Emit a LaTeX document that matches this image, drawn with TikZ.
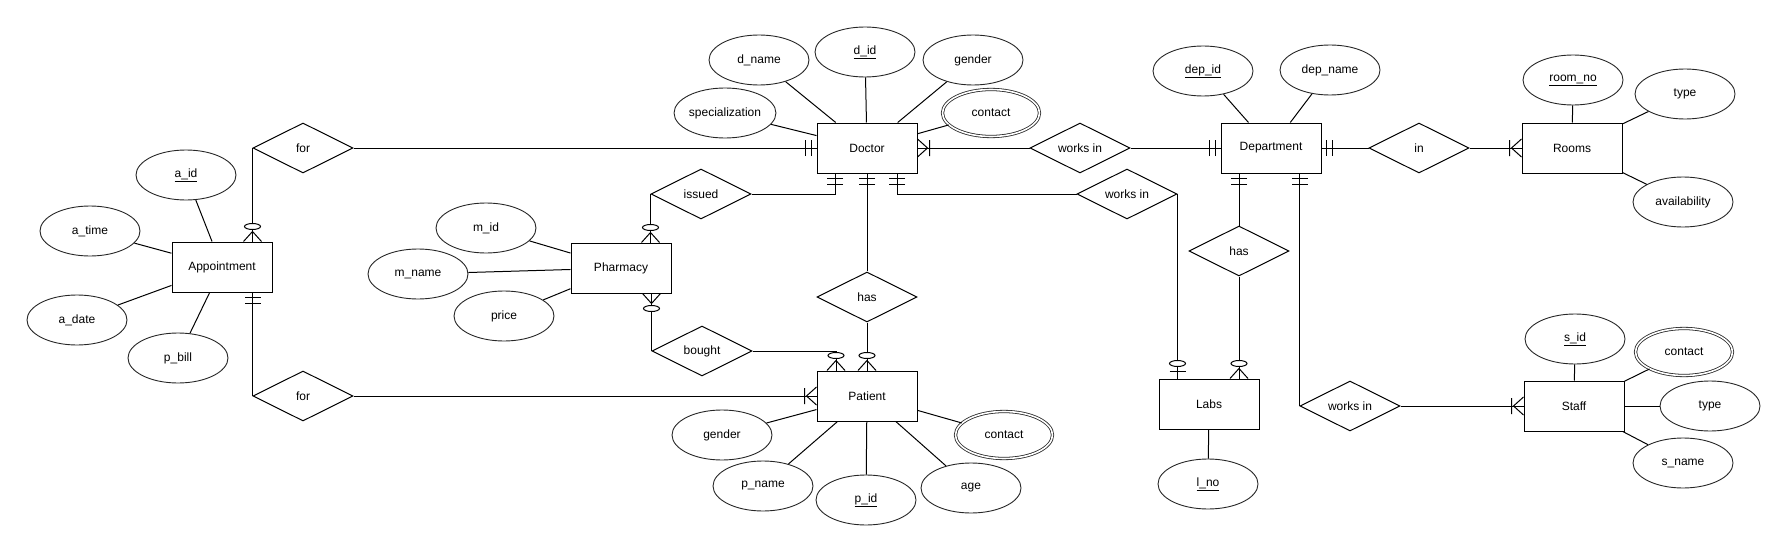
\documentclass[tikz,border=0pt]{standalone}
\usepackage{fontspec}
\setmainfont{Liberation Sans}
\usetikzlibrary{shapes.geometric,decorations.markings}

\begin{document}
\begin{tikzpicture}[
	x=1pt, y=-1pt,
	font=\fontsize{12}{14}\selectfont,
	text centered,
	entity/.style={
	  rectangle,
	  minimum width=100pt,
	  minimum height=50pt,
	  line width=1pt,
	  draw=black
	},
	attrib/.style={
	  ellipse,
	  minimum width=100pt,
	  minimum height=50pt,
	  inner sep=0pt,
	  line width=0.9pt,
	  draw=black!85
	},
	multi/.style={
	  attrib,
	  double,
	  double distance=1.6pt,
	  line width=0.8pt,
	  minimum width=97pt,
	  minimum height=47pt
	},
	relation/.style={
	  diamond,
	  aspect=2,
	  minimum width=100pt,
	  minimum height=50pt,
	  inner sep=0pt,
	  line width=1pt,
	  draw=black
	},
	line/.style={draw, line width=1pt},
	endmark/.style={postaction={decorate, decoration={markings, mark=at position 1 with {#1}}}},
	mandone/.style={endmark={
	  \draw[line width=1pt] (-5pt,-8pt) -- (-5pt,8pt) (-11pt,-8pt) -- (-11pt,8pt);}},
	onemany/.style={endmark={
	  \draw[line width=1pt] (-12pt,-8pt) -- (-12pt,8pt) (0pt,-9pt) -- (-10pt,0pt) -- (0pt,9pt);}},
	zeromany/.style={endmark={
	  \draw[line width=1pt] (0pt,-9pt) -- (-10pt,0pt) -- (0pt,9pt);
	  \draw[line width=1pt, fill=white] (-15pt,0pt) ellipse [x radius=3pt, y radius=8pt];}},
	zeroone/.style={endmark={
	  \draw[line width=1pt] (-7pt,-8pt) -- (-7pt,8pt);
	  \draw[line width=1pt, fill=white] (-15pt,0pt) ellipse [x radius=3pt, y radius=8pt];}}
	]
	\useasboundingbox (0,0) rectangle (1786,551);

	\node at (222,267) [entity] (appt) {Appointment};
	\node at (867,148) [entity] (doctor) {Doctor};
	\node at (621,268) [entity] (pharmacy) {Pharmacy};
	\node at (867,396) [entity] (patient) {Patient};
	\node at (1271,148) [entity] (dept) {Department};
	\node at (1209,404) [entity] (labs) {Labs};
	\node at (1572,148) [entity] (rooms) {Rooms};
	\node at (1574,406) [entity] (staff) {Staff};

	\node at (303,148) [relation] (for1) {for};
	\node at (303,396) [relation] (for2) {for};
	\node at (701,194) [relation] (issued) {issued};
	\node at (702,351) [relation] (bought) {bought};
	\node at (867,297) [relation] (has1) {has};
	\node at (1080,148) [relation] (works1) {works in};
	\node at (1127,194) [relation] (works2) {works in};
	\node at (1239,251) [relation] (has2) {has};
	\node at (1419,148) [relation] (inrel) {in};
	\node at (1350,406) [relation] (works3) {works in};

	\node at (186,175) [attrib] (aid) {\underline{a\_id}};
	\node at (90,231) [attrib] (atime) {a\_time};
	\node at (77,320) [attrib] (adate) {a\_date};
	\node at (178,358) [attrib] (pbill) {p\_bill};
	\node at (759,60) [attrib] (dname) {d\_name};
	\node at (865,52) [attrib] (did) {\underline{d\_id}};
	\node at (973,60) [attrib] (dgender) {gender};
	\node at (991,113) [multi] (dcontact) {contact};
	\node at (725,113) [attrib] (dspec) {specialization};
	\node at (486,228) [attrib] (mid) {m\_id};
	\node at (418,274) [attrib] (mname) {m\_name};
	\node at (504,316) [attrib] (price) {price};
	\node at (722,435) [attrib] (pgender) {gender};
	\node at (763,486) [attrib] (pname) {p\_name};
	\node at (866,500) [attrib] (pid) {\underline{p\_id}};
	\node at (971,488) [attrib] (page) {age};
	\node at (1004,435) [multi] (pcontact) {contact};
	\node at (1203,71) [attrib] (depid) {\underline{dep\_id}};
	\node at (1330,70) [attrib] (depname) {dep\_name};
	\node at (1208,484) [attrib] (lno) {\underline{l\_no}};
	\node at (1573,80) [attrib] (roomno) {\underline{room\_no}};
	\node at (1685,94) [attrib] (rtype) {type};
	\node at (1683,202) [attrib] (ravail) {availability};
	\node at (1575,339) [attrib] (sid) {\underline{s\_id}};
	\node at (1684,352) [multi] (scontact) {contact};
	\node at (1710,406) [attrib] (stype) {type};
	\node at (1683,463) [attrib] (sname) {s\_name};

	\path [line] (aid) -- (appt);
	\path [line] (atime) -- (appt);
	\path [line] (adate) -- (appt);
	\path [line] (pbill) -- (appt);
	\path [line] (dname) -- (doctor);
	\path [line] (did) -- (doctor);
	\path [line] (dgender) -- (doctor);
	\path [line] (dcontact) -- (doctor);
	\path [line] (dspec) -- (doctor);
	\path [line] (mid) -- (pharmacy);
	\path [line] (mname) -- (pharmacy);
	\path [line] (price) -- (pharmacy);
	\path [line] (pgender) -- (patient);
	\path [line] (pname) -- (patient);
	\path [line] (pid) -- (patient);
	\path [line] (page) -- (patient);
	\path [line] (pcontact) -- (patient);
	\path [line] (depid) -- (dept);
	\path [line] (depname) -- (dept);
	\path [line] (lno) -- (labs);
	\path [line] (roomno) -- (rooms);
	\path [line] (rtype) -- (rooms);
	\path [line] (ravail) -- (rooms);
	\path [line] (sid) -- (staff);
	\path [line] (scontact) -- (staff);
	\path [line] (stype) -- (staff);
	\path [line] (sname) -- (staff);

	\path [line, zeromany] (for1.west) -- (for1.west |- appt.north);
	\path [line, mandone] (for1) -- (doctor);
	\path [line, mandone] (for2.west) -- (for2.west |- appt.south);
	\path [line, onemany] (for2) -- (patient);
	\path [line, mandone] (issued.east) -| ([xshift=-32pt]doctor.south);
	\path [line, zeromany] (issued.west) -- (issued.west |- pharmacy.north);
	\path [line, zeromany] (bought.west) -- (bought.west |- pharmacy.south);
	\path [line, zeromany] (bought.east) -| ([xshift=-31pt]patient.north);
	\path [line, mandone] (has1) -- (doctor);
	\path [line, zeromany] (has1) -- (patient);
	\path [line, onemany] (works1) -- (doctor);
	\path [line, mandone] (works1) -- (dept);
	\path [line, mandone] (works2.west) -| ([xshift=30pt]doctor.south);
	\path [line, zeroone] (works2.east) -- (works2.east |- labs.north);
	\path [line, mandone] (has2.north) -- (has2.north |- dept.south);
	\path [line, zeromany] (has2.south) -- (has2.south |- labs.north);
	\path [line, mandone] (works3.west) -- (works3.west |- dept.south);
	\path [line, onemany] (works3) -- (staff);
	\path [line, mandone] (inrel) -- (dept);
	\path [line, onemany] (inrel) -- (rooms);
  \end{tikzpicture}
\end{document}
